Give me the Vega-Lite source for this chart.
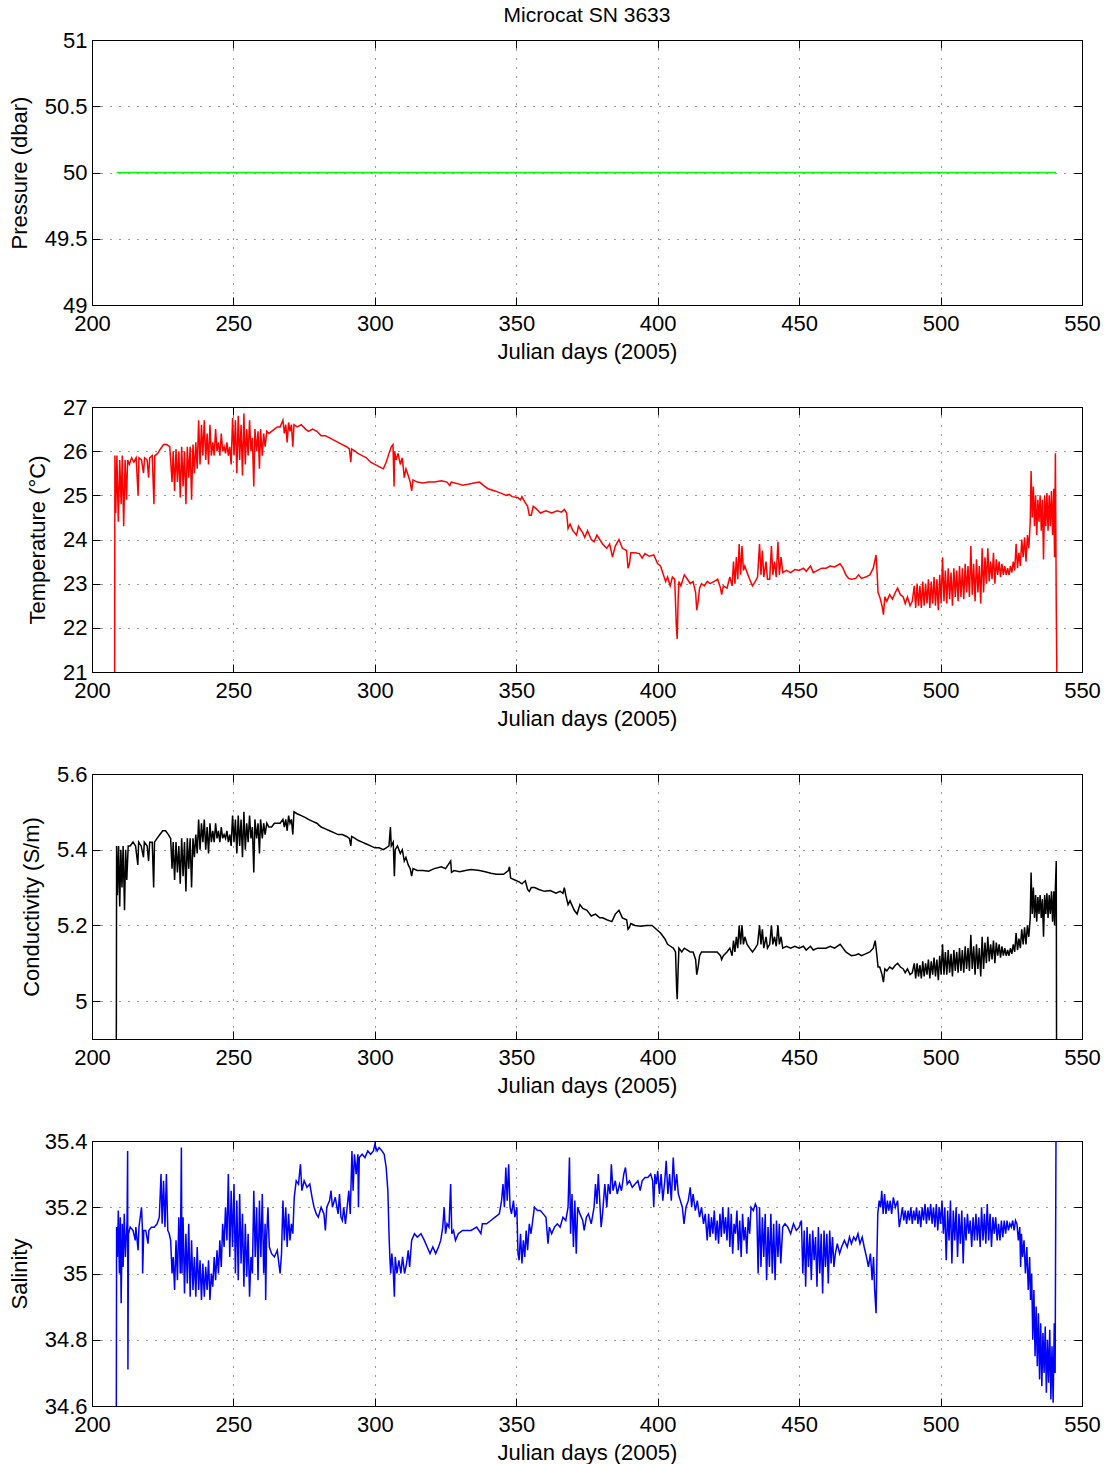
{
"$schema": "https://vega.github.io/schema/vega-lite/v6.json",
"padding": {"left": 7, "top": 4, "right": 10, "bottom": 0},
"background": "white",
"config": {
 "view": {"stroke": "black", "strokeWidth": 1},
 "axis": {"labelFont": "Liberation Sans", "titleFont": "Liberation Sans", "labelFontSize": 22, "titleFontSize": 22, "titleFontWeight": "normal", "labelColor": "black", "titleColor": "black", "domainColor": "black", "tickColor": "black", "tickSize": -8, "gridColor": "black", "gridOpacity": 0.8, "gridDash": [1, 8], "gridWidth": 1, "minExtent": 0, "labelFlush": false},
 "axisX": {"titlePadding": 7, "labelPadding": 16},
 "axisY": {"titlePadding": 13, "labelPadding": 13}
},
"bounds": "flush",
"spacing": 102,
"datasets": {
"pres": [{"d":208.7,"v":50},{"d":540.8,"v":50}],
"temp": [
{"d":208.0,"v":21.0},{"d":208.1,"v":25.9},{"d":208.4,"v":24.6},{"d":208.8,"v":25.9},{"d":209.3,"v":24.4},{"d":209.8,"v":25.8},{"d":210.3,"v":24.8},{"d":210.7,"v":25.9},{"d":211.2,"v":24.3},{"d":211.7,"v":25.8},{"d":212.2,"v":24.9},{"d":212.6,"v":25.8},{"d":213.2,"v":25.7},{"d":214.0,"v":25.85},{"d":214.8,"v":25.75},{"d":215.6,"v":25.85},{"d":216.3,"v":25.0},{"d":216.6,"v":25.85},{"d":217.5,"v":25.8},{"d":218.2,"v":25.5},{"d":218.6,"v":25.85},{"d":219.5,"v":25.8},{"d":220.0,"v":25.4},{"d":220.4,"v":25.85},{"d":221.3,"v":25.9},{"d":221.9,"v":24.8},{"d":222.2,"v":25.9},{"d":223.2,"v":25.95},{"d":224.2,"v":26.05},{"d":225.3,"v":26.15},{"d":226.4,"v":26.15},{"d":227.5,"v":26.1},
{"d":228.3,"v":25.3},{"d":228.7,"v":26.0},{"d":229.2,"v":25.1},{"d":229.7,"v":26.05},{"d":230.2,"v":25.3},{"d":230.7,"v":26.0},{"d":231.2,"v":24.95},{"d":231.7,"v":26.1},{"d":232.2,"v":25.2},{"d":232.7,"v":26.0},{"d":233.2,"v":24.8},{"d":233.7,"v":26.1},{"d":234.2,"v":25.4},{"d":234.7,"v":26.1},{"d":235.2,"v":24.9},{"d":235.7,"v":26.15},{"d":236.2,"v":25.5},{"d":236.7,"v":26.2},{"d":237.2,"v":25.6},{"d":237.7,"v":26.7},{"d":238.2,"v":25.7},{"d":238.7,"v":26.6},{"d":239.2,"v":25.9},{"d":239.7,"v":26.7},{"d":240.2,"v":25.8},{"d":240.7,"v":26.4},{"d":241.2,"v":25.7},{"d":241.7,"v":26.6},{"d":242.2,"v":25.9},{"d":242.7,"v":26.2},{"d":243.2,"v":25.9},{"d":243.7,"v":26.5},{"d":244.2,"v":26.0},{"d":244.7,"v":26.2},{"d":245.2,"v":25.9},{"d":245.7,"v":26.4},{"d":246.2,"v":26.0},{"d":246.7,"v":26.1},{"d":247.2,"v":25.95},{"d":247.7,"v":26.2},{"d":248.2,"v":25.9},{"d":248.7,"v":26.1},{"d":249.2,"v":25.7},{"d":249.7,"v":26.75},{"d":250.2,"v":25.9},{"d":250.7,"v":26.7},{"d":251.2,"v":25.5},{"d":251.7,"v":26.8},{"d":252.2,"v":25.8},{"d":252.7,"v":26.6},{"d":253.2,"v":25.45},{"d":253.7,"v":26.85},{"d":254.2,"v":25.7},{"d":254.7,"v":26.5},{"d":255.2,"v":25.9},{"d":255.7,"v":26.7},{"d":256.2,"v":26.0},{"d":256.7,"v":26.3},{"d":257.2,"v":25.2},{"d":257.6,"v":26.5},{"d":258.2,"v":26.0},{"d":258.7,"v":26.45},{"d":259.2,"v":25.6},{"d":259.6,"v":26.5},{"d":260.2,"v":25.9},{"d":260.7,"v":26.4},{"d":261.2,"v":26.1},{"d":261.8,"v":26.45},
{"d":262.5,"v":26.4},{"d":263.5,"v":26.45},{"d":264.5,"v":26.5},{"d":265.5,"v":26.55},{"d":266.5,"v":26.55},{"d":267.5,"v":26.7},{"d":268.0,"v":26.4},{"d":268.5,"v":26.6},{"d":269.0,"v":26.2},{"d":269.5,"v":26.65},{"d":270.0,"v":26.45},{"d":270.5,"v":26.6},{"d":271.0,"v":26.1},{"d":271.4,"v":26.6},{"d":272.5,"v":26.55},{"d":274.0,"v":26.6},{"d":275.5,"v":26.5},{"d":276.5,"v":26.45},{"d":278.0,"v":26.5},{"d":279.5,"v":26.45},{"d":281.0,"v":26.35},{"d":282.5,"v":26.35},{"d":284.0,"v":26.3},{"d":285.5,"v":26.25},{"d":287.0,"v":26.2},{"d":288.5,"v":26.15},{"d":290.0,"v":26.1},{"d":291.0,"v":26.05},{"d":291.5,"v":25.75},{"d":291.8,"v":26.05},{"d":293.0,"v":26.0},{"d":294.0,"v":25.95},{"d":295.5,"v":25.9},{"d":297.0,"v":25.85},{"d":298.5,"v":25.75},{"d":300.0,"v":25.7},{"d":301.5,"v":25.65},{"d":303.0,"v":25.6},{"d":304.0,"v":25.75},{"d":305.0,"v":25.95},{"d":305.8,"v":26.1},{"d":306.4,"v":26.15},{"d":306.8,"v":25.2},{"d":307.0,"v":26.0},{"d":307.5,"v":25.8},{"d":308.2,"v":25.95},{"d":309.0,"v":25.7},{"d":309.7,"v":25.85},{"d":310.4,"v":25.4},{"d":311.0,"v":25.6},{"d":311.8,"v":25.45},{"d":312.5,"v":25.3},{"d":313.0,"v":25.1},{"d":313.5,"v":25.35},
{"d":315.0,"v":25.3},{"d":317.0,"v":25.28},{"d":319.0,"v":25.3},{"d":321.0,"v":25.3},{"d":323.5,"v":25.33},{"d":325.5,"v":25.3},{"d":326.5,"v":25.22},{"d":327.0,"v":25.3},{"d":329.0,"v":25.27},{"d":331.0,"v":25.23},{"d":333.0,"v":25.25},{"d":335.0,"v":25.28},{"d":337.0,"v":25.3},{"d":338.5,"v":25.22},{"d":340.0,"v":25.15},{"d":342.5,"v":25.1},{"d":344.5,"v":25.05},{"d":346.5,"v":25.0},{"d":347.5,"v":25.02},{"d":348.5,"v":24.97},{"d":350.5,"v":24.95},{"d":351.5,"v":24.9},{"d":352.0,"v":24.97},{"d":353.0,"v":24.85},{"d":354.0,"v":24.75},{"d":354.6,"v":24.55},{"d":355.3,"v":24.55},{"d":356.0,"v":24.75},{"d":357.0,"v":24.7},{"d":358.5,"v":24.6},{"d":360.5,"v":24.65},{"d":362.5,"v":24.6},{"d":364.5,"v":24.65},{"d":366.0,"v":24.62},{"d":367.0,"v":24.68},{"d":367.8,"v":24.6},{"d":368.3,"v":24.25},{"d":369.0,"v":24.35},{"d":370.0,"v":24.2},{"d":371.3,"v":24.1},{"d":372.0,"v":24.3},{"d":373.5,"v":24.15},{"d":374.2,"v":24.05},{"d":375.2,"v":24.2},{"d":376.5,"v":24.0},{"d":377.5,"v":23.95},{"d":378.5,"v":24.1},{"d":379.5,"v":24.0},{"d":380.5,"v":23.9},{"d":382.0,"v":23.8},{"d":383.0,"v":23.9},{"d":384.0,"v":23.6},{"d":385.0,"v":23.85},{"d":386.3,"v":24.0},{"d":387.5,"v":23.8},{"d":389.0,"v":23.75},{"d":389.5,"v":23.35},{"d":390.0,"v":23.45},{"d":390.5,"v":23.7},{"d":392.0,"v":23.7},{"d":393.5,"v":23.68},{"d":394.5,"v":23.58},{"d":395.5,"v":23.68},{"d":397.0,"v":23.62},{"d":398.6,"v":23.65},{"d":400.0,"v":23.45},{"d":401.0,"v":23.4},{"d":402.0,"v":23.2},{"d":402.8,"v":23.05},{"d":403.5,"v":23.15},{"d":404.4,"v":22.95},{"d":405.2,"v":23.15},{"d":406.0,"v":23.1},{"d":406.6,"v":22.0},{"d":406.9,"v":21.75},{"d":407.2,"v":22.6},{"d":407.5,"v":23.05},{"d":408.2,"v":22.95},{"d":409.4,"v":23.2},{"d":410.5,"v":23.1},{"d":411.5,"v":23.0},{"d":412.5,"v":23.05},{"d":413.4,"v":22.8},{"d":413.8,"v":22.4},{"d":414.3,"v":22.6},{"d":414.8,"v":22.9},{"d":415.5,"v":23.0},{"d":416.5,"v":22.95},{"d":417.5,"v":23.05},{"d":418.5,"v":23.0},{"d":420.0,"v":23.05},{"d":421.2,"v":23.1},{"d":422.2,"v":22.9},{"d":422.6,"v":22.75},{"d":423.2,"v":22.95},{"d":424.5,"v":22.9},{"d":425.5,"v":23.15},{"d":426.3,"v":22.95},{"d":426.8,"v":23.5},{"d":427.3,"v":23.0},{"d":427.8,"v":23.6},{"d":428.3,"v":23.1},{"d":428.8,"v":23.9},{"d":429.3,"v":23.2},{"d":429.8,"v":23.85},{"d":430.3,"v":23.3},{"d":430.8,"v":23.4},{"d":431.6,"v":23.25},{"d":432.5,"v":23.1},{"d":433.5,"v":22.95},{"d":434.5,"v":23.05},{"d":435.3,"v":23.15},{"d":436.0,"v":23.9},{"d":436.5,"v":23.2},{"d":437.0,"v":23.75},{"d":437.5,"v":23.15},{"d":438.3,"v":23.5},{"d":438.8,"v":23.1},{"d":439.6,"v":23.1},{"d":440.2,"v":23.85},{"d":440.7,"v":23.2},{"d":441.3,"v":23.5},{"d":441.9,"v":23.15},{"d":442.5,"v":23.95},{"d":443.0,"v":23.2},{"d":443.6,"v":23.6},{"d":444.2,"v":23.25},{"d":445.5,"v":23.3},{"d":447.0,"v":23.25},{"d":448.5,"v":23.32},{"d":450.0,"v":23.3},{"d":451.5,"v":23.35},{"d":452.5,"v":23.28},{"d":454.0,"v":23.4},{"d":455.0,"v":23.25},{"d":456.5,"v":23.3},{"d":458.0,"v":23.35},{"d":459.5,"v":23.35},{"d":461.0,"v":23.4},{"d":462.5,"v":23.38},{"d":464.5,"v":23.45},{"d":465.5,"v":23.35},{"d":466.5,"v":23.2},{"d":467.5,"v":23.12},{"d":468.5,"v":23.1},{"d":470.0,"v":23.12},{"d":471.0,"v":23.2},{"d":472.0,"v":23.12},{"d":473.5,"v":23.15},{"d":475.0,"v":23.2},{"d":476.2,"v":23.35},{"d":477.2,"v":23.65},{"d":477.6,"v":23.2},{"d":477.9,"v":22.8},{"d":478.5,"v":22.7},{"d":479.3,"v":22.5},{"d":479.8,"v":22.3},{"d":480.3,"v":22.7},{"d":481.0,"v":22.6},{"d":482.0,"v":22.75},{"d":483.0,"v":22.65},{"d":484.0,"v":22.8},{"d":484.8,"v":22.9},{"d":485.8,"v":22.75},{"d":486.8,"v":22.7},{"d":487.5,"v":22.55},{"d":488.3,"v":22.7},{"d":489.2,"v":22.5},{"d":490.0,"v":22.6},
{"d":490.7,"v":22.95},{"d":491.2,"v":22.45},{"d":491.7,"v":23.0},{"d":492.2,"v":22.5},{"d":492.7,"v":22.95},{"d":493.2,"v":22.45},{"d":493.7,"v":23.05},{"d":494.2,"v":22.5},{"d":494.7,"v":23.0},{"d":495.2,"v":22.55},{"d":495.7,"v":23.1},{"d":496.2,"v":22.45},{"d":496.7,"v":23.05},{"d":497.2,"v":22.55},{"d":497.7,"v":23.15},{"d":498.2,"v":22.5},{"d":498.7,"v":23.1},{"d":499.2,"v":22.4},{"d":499.7,"v":23.2},{"d":500.2,"v":22.55},{"d":500.7,"v":23.6},{"d":501.2,"v":22.6},{"d":501.7,"v":23.3},{"d":502.2,"v":22.55},{"d":502.7,"v":23.35},{"d":503.2,"v":22.65},{"d":503.7,"v":23.25},{"d":504.2,"v":22.5},{"d":504.7,"v":23.35},{"d":505.2,"v":22.7},{"d":505.7,"v":23.3},{"d":506.2,"v":22.6},{"d":506.7,"v":23.4},{"d":507.2,"v":22.7},{"d":507.7,"v":23.35},{"d":508.2,"v":22.65},{"d":508.7,"v":23.45},{"d":509.2,"v":22.8},{"d":509.7,"v":23.4},{"d":510.2,"v":22.7},{"d":510.7,"v":23.85},{"d":511.2,"v":22.75},{"d":511.7,"v":23.45},{"d":512.2,"v":22.6},{"d":512.7,"v":23.55},{"d":513.2,"v":22.8},{"d":513.7,"v":23.4},{"d":514.2,"v":22.55},{"d":514.7,"v":23.8},{"d":515.2,"v":22.8},{"d":515.7,"v":23.6},{"d":516.2,"v":23.0},{"d":516.7,"v":23.8},{"d":517.2,"v":23.05},{"d":517.7,"v":23.5},{"d":518.2,"v":23.1},{"d":518.7,"v":23.7},{"d":519.2,"v":23.0},{"d":519.7,"v":23.55},{"d":520.2,"v":23.2},{"d":520.7,"v":23.5},{"d":521.2,"v":23.15},{"d":521.7,"v":23.45},{"d":522.2,"v":23.2},{"d":522.7,"v":23.4},{"d":523.2,"v":23.2},{"d":523.7,"v":23.35},{"d":524.2,"v":23.2},{"d":524.7,"v":23.4},{"d":525.2,"v":23.25},{"d":525.7,"v":23.5},{"d":526.2,"v":23.3},{"d":526.7,"v":23.9},{"d":527.2,"v":23.35},{"d":527.7,"v":23.7},{"d":528.2,"v":23.4},{"d":528.7,"v":24.0},{"d":529.2,"v":23.6},{"d":529.7,"v":24.05},{"d":530.2,"v":23.5},{"d":530.7,"v":24.1},{"d":531.2,"v":23.8},{"d":531.7,"v":24.4},{"d":532.0,"v":25.55},{"d":532.4,"v":24.5},{"d":532.8,"v":25.2},{"d":533.2,"v":24.3},{"d":533.6,"v":25.0},{"d":534.0,"v":24.1},{"d":534.4,"v":24.9},{"d":534.8,"v":24.4},{"d":535.2,"v":25.0},{"d":535.6,"v":24.2},{"d":536.0,"v":24.9},{"d":536.4,"v":23.55},{"d":536.8,"v":25.0},{"d":537.2,"v":24.3},{"d":537.6,"v":25.05},{"d":538.0,"v":24.2},{"d":538.4,"v":25.0},{"d":538.8,"v":24.3},{"d":539.2,"v":25.1},{"d":539.6,"v":24.1},{"d":540.0,"v":25.15},{"d":540.3,"v":23.6},{"d":540.6,"v":25.95},{"d":540.9,"v":22.5},{"d":541.1,"v":21.0}
],
"cond": [
{"d":208.6,"v":4.9},{"d":208.7,"v":5.41},{"d":209.0,"v":5.28},{"d":209.4,"v":5.41},{"d":209.8,"v":5.25},{"d":210.2,"v":5.4},{"d":210.6,"v":5.3},{"d":211.0,"v":5.41},{"d":211.5,"v":5.24},{"d":211.9,"v":5.4},{"d":212.3,"v":5.32},{"d":212.8,"v":5.41},{"d":213.5,"v":5.41},{"d":214.5,"v":5.42},{"d":215.4,"v":5.41},{"d":216.2,"v":5.36},{"d":216.5,"v":5.42},{"d":217.4,"v":5.41},{"d":218.2,"v":5.38},{"d":218.5,"v":5.42},{"d":219.5,"v":5.41},{"d":220.0,"v":5.37},{"d":220.4,"v":5.42},{"d":221.3,"v":5.42},{"d":221.8,"v":5.3},{"d":222.1,"v":5.42},{"d":223.0,"v":5.43},{"d":224.0,"v":5.44},{"d":225.0,"v":5.45},{"d":226.0,"v":5.45},{"d":227.0,"v":5.44},{"d":227.8,"v":5.43},
{"d":228.3,"v":5.35},{"d":228.7,"v":5.42},{"d":229.2,"v":5.32},{"d":229.7,"v":5.42},{"d":230.2,"v":5.34},{"d":230.7,"v":5.41},{"d":231.2,"v":5.31},{"d":231.7,"v":5.43},{"d":232.2,"v":5.33},{"d":232.7,"v":5.42},{"d":233.2,"v":5.29},{"d":233.7,"v":5.43},{"d":234.2,"v":5.35},{"d":234.7,"v":5.43},{"d":235.2,"v":5.3},{"d":235.7,"v":5.43},{"d":236.2,"v":5.38},{"d":236.7,"v":5.44},{"d":237.2,"v":5.39},{"d":237.7,"v":5.48},{"d":238.2,"v":5.4},{"d":238.7,"v":5.47},{"d":239.2,"v":5.42},{"d":239.7,"v":5.48},{"d":240.2,"v":5.4},{"d":240.7,"v":5.46},{"d":241.2,"v":5.39},{"d":241.7,"v":5.47},{"d":242.2,"v":5.42},{"d":242.7,"v":5.45},{"d":243.2,"v":5.42},{"d":243.7,"v":5.47},{"d":244.2,"v":5.43},{"d":244.7,"v":5.45},{"d":245.2,"v":5.42},{"d":245.7,"v":5.46},{"d":246.2,"v":5.43},{"d":246.7,"v":5.44},{"d":247.2,"v":5.43},{"d":247.7,"v":5.45},{"d":248.2,"v":5.42},{"d":248.7,"v":5.44},{"d":249.2,"v":5.41},{"d":249.7,"v":5.49},{"d":250.2,"v":5.42},{"d":250.7,"v":5.48},{"d":251.2,"v":5.39},{"d":251.7,"v":5.49},{"d":252.2,"v":5.41},{"d":252.7,"v":5.48},{"d":253.2,"v":5.38},{"d":253.7,"v":5.5},{"d":254.2,"v":5.4},{"d":254.7,"v":5.47},{"d":255.2,"v":5.42},{"d":255.7,"v":5.49},{"d":256.2,"v":5.43},{"d":256.7,"v":5.46},{"d":257.2,"v":5.34},{"d":257.6,"v":5.48},{"d":258.2,"v":5.43},{"d":258.7,"v":5.47},{"d":259.2,"v":5.39},{"d":259.6,"v":5.48},{"d":260.2,"v":5.43},{"d":260.7,"v":5.47},{"d":261.2,"v":5.44},{"d":261.8,"v":5.47},
{"d":262.5,"v":5.46},{"d":263.5,"v":5.46},{"d":264.5,"v":5.47},{"d":265.5,"v":5.47},{"d":266.5,"v":5.47},{"d":267.5,"v":5.48},{"d":268.0,"v":5.46},{"d":268.5,"v":5.48},{"d":269.0,"v":5.45},{"d":269.5,"v":5.49},{"d":270.0,"v":5.47},{"d":270.5,"v":5.48},{"d":271.0,"v":5.44},{"d":271.4,"v":5.5},{"d":272.5,"v":5.495},{"d":274.0,"v":5.49},{"d":275.5,"v":5.485},{"d":276.5,"v":5.48},{"d":278.0,"v":5.475},{"d":279.5,"v":5.47},{"d":281.0,"v":5.46},{"d":282.5,"v":5.455},{"d":284.0,"v":5.45},{"d":285.5,"v":5.445},{"d":287.0,"v":5.44},{"d":288.5,"v":5.44},{"d":290.0,"v":5.435},{"d":291.0,"v":5.43},{"d":291.5,"v":5.41},{"d":291.8,"v":5.435},{"d":293.0,"v":5.43},{"d":294.0,"v":5.425},{"d":295.5,"v":5.42},{"d":297.0,"v":5.415},{"d":298.5,"v":5.41},{"d":300.0,"v":5.405},{"d":301.5,"v":5.405},{"d":303.0,"v":5.4},{"d":304.0,"v":5.405},{"d":305.0,"v":5.41},{"d":305.5,"v":5.46},{"d":305.8,"v":5.41},{"d":306.5,"v":5.42},{"d":306.9,"v":5.33},{"d":307.2,"v":5.4},{"d":308.0,"v":5.41},{"d":309.0,"v":5.39},{"d":309.7,"v":5.4},{"d":310.4,"v":5.37},{"d":311.0,"v":5.38},{"d":311.8,"v":5.36},{"d":312.5,"v":5.35},{"d":313.0,"v":5.33},{"d":313.5,"v":5.35},
{"d":315.0,"v":5.345},{"d":317.0,"v":5.345},{"d":319.0,"v":5.343},{"d":321.0,"v":5.35},{"d":323.5,"v":5.355},{"d":325.0,"v":5.35},{"d":326.8,"v":5.37},{"d":327.1,"v":5.34},{"d":328.0,"v":5.345},{"d":330.0,"v":5.342},{"d":332.0,"v":5.345},{"d":334.0,"v":5.348},{"d":337.0,"v":5.345},{"d":339.0,"v":5.342},{"d":341.0,"v":5.338},{"d":343.0,"v":5.335},{"d":345.5,"v":5.335},{"d":347.2,"v":5.345},{"d":347.6,"v":5.355},{"d":348.0,"v":5.325},{"d":349.5,"v":5.32},{"d":351.0,"v":5.315},{"d":352.0,"v":5.31},{"d":353.2,"v":5.318},{"d":354.0,"v":5.295},{"d":354.6,"v":5.29},{"d":355.3,"v":5.3},{"d":356.5,"v":5.3},{"d":358.0,"v":5.295},{"d":360.0,"v":5.29},{"d":362.0,"v":5.292},{"d":364.0,"v":5.285},{"d":365.5,"v":5.29},{"d":366.5,"v":5.285},{"d":367.0,"v":5.3},{"d":367.5,"v":5.28},{"d":368.3,"v":5.255},{"d":369.0,"v":5.265},{"d":370.5,"v":5.24},{"d":371.5,"v":5.23},{"d":372.5,"v":5.255},{"d":373.5,"v":5.245},{"d":375.0,"v":5.24},{"d":376.5,"v":5.225},{"d":378.0,"v":5.23},{"d":379.5,"v":5.22},{"d":380.5,"v":5.22},{"d":382.0,"v":5.215},{"d":383.8,"v":5.21},{"d":385.0,"v":5.23},{"d":386.3,"v":5.24},{"d":387.5,"v":5.22},{"d":389.0,"v":5.215},{"d":389.5,"v":5.19},{"d":390.0,"v":5.195},{"d":390.5,"v":5.205},{"d":392.0,"v":5.2},{"d":394.0,"v":5.198},{"d":396.0,"v":5.2},{"d":398.0,"v":5.2},{"d":399.5,"v":5.19},{"d":401.0,"v":5.18},{"d":402.5,"v":5.165},{"d":403.5,"v":5.15},{"d":404.5,"v":5.145},{"d":405.5,"v":5.14},{"d":406.3,"v":5.13},{"d":406.7,"v":5.03},{"d":406.9,"v":5.005},{"d":407.2,"v":5.08},{"d":407.5,"v":5.14},{"d":408.5,"v":5.13},{"d":409.4,"v":5.14},{"d":410.5,"v":5.135},{"d":411.5,"v":5.13},{"d":412.5,"v":5.13},{"d":413.4,"v":5.11},{"d":413.8,"v":5.07},{"d":414.3,"v":5.09},{"d":414.8,"v":5.12},{"d":415.5,"v":5.13},{"d":417.0,"v":5.13},{"d":419.0,"v":5.13},{"d":421.0,"v":5.13},{"d":422.2,"v":5.12},{"d":422.6,"v":5.11},{"d":423.2,"v":5.12},{"d":424.5,"v":5.13},{"d":425.5,"v":5.14},{"d":426.3,"v":5.12},{"d":426.8,"v":5.16},{"d":427.3,"v":5.13},{"d":427.8,"v":5.17},{"d":428.3,"v":5.14},{"d":428.8,"v":5.2},{"d":429.3,"v":5.15},{"d":429.8,"v":5.2},{"d":430.3,"v":5.15},{"d":430.8,"v":5.17},{"d":431.6,"v":5.15},{"d":432.5,"v":5.14},{"d":433.5,"v":5.13},{"d":434.5,"v":5.14},{"d":435.3,"v":5.15},{"d":436.0,"v":5.2},{"d":436.5,"v":5.15},{"d":437.0,"v":5.19},{"d":437.5,"v":5.14},{"d":438.3,"v":5.17},{"d":438.8,"v":5.14},{"d":439.6,"v":5.15},{"d":440.2,"v":5.2},{"d":440.7,"v":5.15},{"d":441.3,"v":5.17},{"d":441.9,"v":5.145},{"d":442.5,"v":5.2},{"d":443.0,"v":5.15},{"d":443.6,"v":5.17},{"d":444.2,"v":5.14},{"d":445.5,"v":5.145},{"d":447.0,"v":5.14},{"d":448.5,"v":5.145},{"d":450.0,"v":5.14},{"d":451.5,"v":5.145},{"d":452.5,"v":5.135},{"d":454.0,"v":5.145},{"d":455.0,"v":5.135},{"d":456.5,"v":5.14},{"d":458.0,"v":5.14},{"d":459.5,"v":5.14},{"d":461.0,"v":5.145},{"d":462.5,"v":5.14},{"d":464.5,"v":5.15},{"d":465.5,"v":5.14},{"d":466.5,"v":5.13},{"d":467.5,"v":5.125},{"d":468.5,"v":5.12},{"d":470.0,"v":5.122},{"d":471.0,"v":5.125},{"d":472.0,"v":5.12},{"d":473.5,"v":5.125},{"d":475.0,"v":5.13},{"d":476.2,"v":5.14},{"d":476.9,"v":5.16},{"d":477.5,"v":5.12},{"d":477.9,"v":5.09},{"d":478.5,"v":5.09},{"d":479.3,"v":5.07},{"d":479.8,"v":5.05},{"d":480.3,"v":5.085},{"d":481.0,"v":5.08},{"d":482.0,"v":5.09},{"d":483.0,"v":5.085},{"d":484.0,"v":5.095},{"d":484.8,"v":5.1},{"d":485.8,"v":5.09},{"d":486.8,"v":5.085},{"d":487.5,"v":5.075},{"d":488.3,"v":5.085},{"d":489.2,"v":5.07},{"d":490.0,"v":5.075},
{"d":490.7,"v":5.1},{"d":491.2,"v":5.06},{"d":491.7,"v":5.1},{"d":492.2,"v":5.065},{"d":492.7,"v":5.095},{"d":493.2,"v":5.06},{"d":493.7,"v":5.105},{"d":494.2,"v":5.065},{"d":494.7,"v":5.1},{"d":495.2,"v":5.07},{"d":495.7,"v":5.11},{"d":496.2,"v":5.06},{"d":496.7,"v":5.105},{"d":497.2,"v":5.07},{"d":497.7,"v":5.115},{"d":498.2,"v":5.065},{"d":498.7,"v":5.11},{"d":499.2,"v":5.055},{"d":499.7,"v":5.12},{"d":500.2,"v":5.07},{"d":500.7,"v":5.15},{"d":501.2,"v":5.07},{"d":501.7,"v":5.13},{"d":502.2,"v":5.07},{"d":502.7,"v":5.135},{"d":503.2,"v":5.075},{"d":503.7,"v":5.125},{"d":504.2,"v":5.065},{"d":504.7,"v":5.135},{"d":505.2,"v":5.08},{"d":505.7,"v":5.13},{"d":506.2,"v":5.075},{"d":506.7,"v":5.14},{"d":507.2,"v":5.08},{"d":507.7,"v":5.135},{"d":508.2,"v":5.075},{"d":508.7,"v":5.145},{"d":509.2,"v":5.085},{"d":509.7,"v":5.14},{"d":510.2,"v":5.08},{"d":510.7,"v":5.175},{"d":511.2,"v":5.085},{"d":511.7,"v":5.145},{"d":512.2,"v":5.07},{"d":512.7,"v":5.15},{"d":513.2,"v":5.085},{"d":513.7,"v":5.14},{"d":514.2,"v":5.065},{"d":514.7,"v":5.17},{"d":515.2,"v":5.085},{"d":515.7,"v":5.155},{"d":516.2,"v":5.1},{"d":516.7,"v":5.17},{"d":517.2,"v":5.105},{"d":517.7,"v":5.15},{"d":518.2,"v":5.11},{"d":518.7,"v":5.16},{"d":519.2,"v":5.1},{"d":519.7,"v":5.155},{"d":520.2,"v":5.12},{"d":520.7,"v":5.15},{"d":521.2,"v":5.115},{"d":521.7,"v":5.145},{"d":522.2,"v":5.12},{"d":522.7,"v":5.14},{"d":523.2,"v":5.12},{"d":523.7,"v":5.135},{"d":524.2,"v":5.12},{"d":524.7,"v":5.14},{"d":525.2,"v":5.125},{"d":525.7,"v":5.15},{"d":526.2,"v":5.13},{"d":526.7,"v":5.18},{"d":527.2,"v":5.135},{"d":527.7,"v":5.165},{"d":528.2,"v":5.14},{"d":528.7,"v":5.19},{"d":529.2,"v":5.15},{"d":529.7,"v":5.195},{"d":530.2,"v":5.15},{"d":530.7,"v":5.2},{"d":531.2,"v":5.17},{"d":531.7,"v":5.22},{"d":532.0,"v":5.34},{"d":532.4,"v":5.23},{"d":532.8,"v":5.3},{"d":533.2,"v":5.22},{"d":533.6,"v":5.28},{"d":534.0,"v":5.21},{"d":534.4,"v":5.275},{"d":534.8,"v":5.23},{"d":535.2,"v":5.28},{"d":535.6,"v":5.22},{"d":536.0,"v":5.27},{"d":536.4,"v":5.17},{"d":536.8,"v":5.28},{"d":537.2,"v":5.23},{"d":537.6,"v":5.285},{"d":538.0,"v":5.22},{"d":538.4,"v":5.28},{"d":538.8,"v":5.23},{"d":539.2,"v":5.29},{"d":539.6,"v":5.21},{"d":540.0,"v":5.29},{"d":540.3,"v":5.2},{"d":540.6,"v":5.3},{"d":540.9,"v":5.37},{"d":541.0,"v":4.9}
],
"sal": [
{"d":208.6,"v":34.6},{"d":208.7,"v":35.14},{"d":209.0,"v":35.05},{"d":209.3,"v":35.19},{"d":209.7,"v":35.0},{"d":210.0,"v":35.17},{"d":210.3,"v":34.91},{"d":210.7,"v":35.15},{"d":211.0,"v":35.02},{"d":211.4,"v":35.18},{"d":211.8,"v":35.05},{"d":212.4,"v":35.16},{"d":212.6,"v":35.37},{"d":212.7,"v":34.71},{"d":212.9,"v":35.12},{"d":213.5,"v":35.14},{"d":214.5,"v":35.13},{"d":215.3,"v":35.1},{"d":215.5,"v":35.14},{"d":216.3,"v":35.07},{"d":216.6,"v":35.14},{"d":217.5,"v":35.2},{"d":217.8,"v":35.14},{"d":217.9,"v":35.0},{"d":218.3,"v":35.13},{"d":219.0,"v":35.13},{"d":219.8,"v":35.09},{"d":220.1,"v":35.13},{"d":221.0,"v":35.14},{"d":222.0,"v":35.14},{"d":223.0,"v":35.15},{"d":223.8,"v":35.17},{"d":224.4,"v":35.3},{"d":224.8,"v":35.15},{"d":225.3,"v":35.28},{"d":225.8,"v":35.14},{"d":226.3,"v":35.3},{"d":226.8,"v":35.13},{"d":227.3,"v":35.12},{"d":227.8,"v":35.1},{"d":228.3,"v":35.0},{"d":228.7,"v":35.05},{"d":229.2,"v":34.95},{"d":229.7,"v":35.1},{"d":230.2,"v":34.98},{"d":230.7,"v":35.17},{"d":231.2,"v":35.0},{"d":231.6,"v":35.38},{"d":231.8,"v":35.0},{"d":232.2,"v":35.17},{"d":232.7,"v":34.94},{"d":233.2,"v":35.12},{"d":233.7,"v":34.97},{"d":234.2,"v":35.15},{"d":234.7,"v":34.93},{"d":235.2,"v":35.1},{"d":235.7,"v":34.95},{"d":236.2,"v":35.05},{"d":236.7,"v":34.93},{"d":237.2,"v":35.08},{"d":237.7,"v":34.95},{"d":238.2,"v":35.04},{"d":238.7,"v":34.92},{"d":239.2,"v":35.03},{"d":239.7,"v":34.93},{"d":240.2,"v":35.02},{"d":240.7,"v":34.95},{"d":241.2,"v":35.04},{"d":241.7,"v":34.92},{"d":242.2,"v":35.0},{"d":242.7,"v":34.96},{"d":243.2,"v":35.05},{"d":243.7,"v":34.98},{"d":244.2,"v":35.07},{"d":244.7,"v":35.0},{"d":245.2,"v":35.1},{"d":245.7,"v":35.02},{"d":246.2,"v":35.15},{"d":246.7,"v":35.08},{"d":247.2,"v":35.2},{"d":247.7,"v":35.1},{"d":248.2,"v":35.3},{"d":248.7,"v":35.05},{"d":249.2,"v":35.25},{"d":249.7,"v":35.08},{"d":250.2,"v":35.27},{"d":250.7,"v":35.0},{"d":251.2,"v":35.22},{"d":251.7,"v":34.98},{"d":252.2,"v":35.24},{"d":252.7,"v":35.03},{"d":253.2,"v":35.18},{"d":253.7,"v":34.96},{"d":254.2,"v":35.15},{"d":254.7,"v":34.99},{"d":255.2,"v":35.12},{"d":255.7,"v":34.93},{"d":256.2,"v":35.05},{"d":256.7,"v":35.0},{"d":257.2,"v":35.25},{"d":257.7,"v":35.05},{"d":258.2,"v":35.2},{"d":258.7,"v":34.98},{"d":259.2,"v":35.22},{"d":259.7,"v":35.05},{"d":260.2,"v":35.24},{"d":260.7,"v":35.0},{"d":261.2,"v":35.15},{"d":261.4,"v":34.92},{"d":261.7,"v":35.1},{"d":262.2,"v":35.2},{"d":262.7,"v":35.08},{"d":263.5,"v":35.06},{"d":264.5,"v":35.05},{"d":265.5,"v":35.07},{"d":266.5,"v":35.0},{"d":267.0,"v":35.06},{"d":267.5,"v":35.22},{"d":268.0,"v":35.1},{"d":268.5,"v":35.2},{"d":269.0,"v":35.08},{"d":269.5,"v":35.18},{"d":270.0,"v":35.1},{"d":270.5,"v":35.15},{"d":271.0,"v":35.12},{"d":271.5,"v":35.23},{"d":272.2,"v":35.28},{"d":273.0,"v":35.27},{"d":273.7,"v":35.33},{"d":274.2,"v":35.25},{"d":275.0,"v":35.28},{"d":276.0,"v":35.26},{"d":277.0,"v":35.27},{"d":277.8,"v":35.23},{"d":278.5,"v":35.2},{"d":279.3,"v":35.18},{"d":280.0,"v":35.17},{"d":281.0,"v":35.2},{"d":282.0,"v":35.18},{"d":282.5,"v":35.13},{"d":283.0,"v":35.2},{"d":284.0,"v":35.22},{"d":284.5,"v":35.25},{"d":285.0,"v":35.2},{"d":286.0,"v":35.23},{"d":287.0,"v":35.18},{"d":287.5,"v":35.24},{"d":288.0,"v":35.17},{"d":288.5,"v":35.16},{"d":289.0,"v":35.2},{"d":289.6,"v":35.15},{"d":290.2,"v":35.2},{"d":290.8,"v":35.25},{"d":291.3,"v":35.18},{"d":291.9,"v":35.37},{"d":292.3,"v":35.25},{"d":292.8,"v":35.36},{"d":293.4,"v":35.3},{"d":294.0,"v":35.36},{"d":294.2,"v":35.2},{"d":294.5,"v":35.35},{"d":295.5,"v":35.36},{"d":296.5,"v":35.35},{"d":297.5,"v":35.37},{"d":298.5,"v":35.36},{"d":299.5,"v":35.37},{"d":300.0,"v":35.39},{"d":300.8,"v":35.37},{"d":301.5,"v":35.38},{"d":302.5,"v":35.37},{"d":303.3,"v":35.36},{"d":304.0,"v":35.32},{"d":304.6,"v":35.25},{"d":305.0,"v":35.12},{"d":305.3,"v":35.05},{"d":305.6,"v":35.0},{"d":306.0,"v":35.06},{"d":306.5,"v":35.01},{"d":306.9,"v":34.93},{"d":307.2,"v":35.05},{"d":307.8,"v":35.0},{"d":308.5,"v":35.04},{"d":309.2,"v":35.0},{"d":309.8,"v":35.05},{"d":310.5,"v":35.0},{"d":311.2,"v":35.03},{"d":311.8,"v":35.07},{"d":312.3,"v":35.02},{"d":313.0,"v":35.1},{"d":314.0,"v":35.12},{"d":315.0,"v":35.11},{"d":316.3,"v":35.12},{"d":317.5,"v":35.1},{"d":318.5,"v":35.08},{"d":319.5,"v":35.06},{"d":320.5,"v":35.08},{"d":321.5,"v":35.06},{"d":322.5,"v":35.08},{"d":323.3,"v":35.1},{"d":324.0,"v":35.14},{"d":324.5,"v":35.2},{"d":325.0,"v":35.12},{"d":325.5,"v":35.15},{"d":326.2,"v":35.14},{"d":326.8,"v":35.27},{"d":327.2,"v":35.12},{"d":327.8,"v":35.13},{"d":328.5,"v":35.1},{"d":329.5,"v":35.12},{"d":331.0,"v":35.13},{"d":332.5,"v":35.13},{"d":334.0,"v":35.13},{"d":336.0,"v":35.14},{"d":337.5,"v":35.12},{"d":338.0,"v":35.15},{"d":339.5,"v":35.15},{"d":341.0,"v":35.16},{"d":342.5,"v":35.17},{"d":344.0,"v":35.18},{"d":344.8,"v":35.22},{"d":345.3,"v":35.27},{"d":345.8,"v":35.2},{"d":346.3,"v":35.32},{"d":346.8,"v":35.22},{"d":347.3,"v":35.33},{"d":347.8,"v":35.2},{"d":348.3,"v":35.18},{"d":349.0,"v":35.22},{"d":349.5,"v":35.17},{"d":350.2,"v":35.2},{"d":350.6,"v":35.06},{"d":351.0,"v":35.04},{"d":351.5,"v":35.12},{"d":352.0,"v":35.03},{"d":352.5,"v":35.1},{"d":353.0,"v":35.05},{"d":353.5,"v":35.13},{"d":354.0,"v":35.07},{"d":354.6,"v":35.15},{"d":355.2,"v":35.12},{"d":355.8,"v":35.16},{"d":356.4,"v":35.2},{"d":357.5,"v":35.19},{"d":358.5,"v":35.19},{"d":359.5,"v":35.18},{"d":360.5,"v":35.17},{"d":361.2,"v":35.09},{"d":361.7,"v":35.14},{"d":362.5,"v":35.12},{"d":363.5,"v":35.14},{"d":364.5,"v":35.15},{"d":365.5,"v":35.14},{"d":366.5,"v":35.17},{"d":367.5,"v":35.16},{"d":368.3,"v":35.2},{"d":368.8,"v":35.35},{"d":369.2,"v":35.12},{"d":369.7,"v":35.24},{"d":370.2,"v":35.08},{"d":370.7,"v":35.22},{"d":371.2,"v":35.06},{"d":371.7,"v":35.2},{"d":372.5,"v":35.18},{"d":373.5,"v":35.16},{"d":374.0,"v":35.13},{"d":374.8,"v":35.17},{"d":375.5,"v":35.18},{"d":376.5,"v":35.15},{"d":377.5,"v":35.2},{"d":378.0,"v":35.27},{"d":378.5,"v":35.21},{"d":379.0,"v":35.3},{"d":379.5,"v":35.22},{"d":380.0,"v":35.14},{"d":380.5,"v":35.18},{"d":381.3,"v":35.27},{"d":382.0,"v":35.2},{"d":382.5,"v":35.27},{"d":383.2,"v":35.24},{"d":383.6,"v":35.33},{"d":384.2,"v":35.25},{"d":385.0,"v":35.28},{"d":385.7,"v":35.24},{"d":386.5,"v":35.27},{"d":387.2,"v":35.25},{"d":388.0,"v":35.3},{"d":388.6,"v":35.32},{"d":389.2,"v":35.27},{"d":390.0,"v":35.28},{"d":391.0,"v":35.26},{"d":392.0,"v":35.27},{"d":393.0,"v":35.28},{"d":393.8,"v":35.25},{"d":394.5,"v":35.28},{"d":395.5,"v":35.29},{"d":396.5,"v":35.29},{"d":397.5,"v":35.3},{"d":398.2,"v":35.28},{"d":398.6,"v":35.2},{"d":399.0,"v":35.3},{"d":399.5,"v":35.27},{"d":400.0,"v":35.31},{"d":400.6,"v":35.24},{"d":401.2,"v":35.3},{"d":401.8,"v":35.22},{"d":402.5,"v":35.28},{"d":403.0,"v":35.34},{"d":403.6,"v":35.24},{"d":404.2,"v":35.3},{"d":404.8,"v":35.22},{"d":405.5,"v":35.35},{"d":406.1,"v":35.25},{"d":406.7,"v":35.3},{"d":407.3,"v":35.24},{"d":408.0,"v":35.22},{"d":408.7,"v":35.2},{"d":409.3,"v":35.15},{"d":410.0,"v":35.2},{"d":410.8,"v":35.22},{"d":411.5,"v":35.26},{"d":412.0,"v":35.2},{"d":412.5,"v":35.24},{"d":413.3,"v":35.19},{"d":414.0,"v":35.22},{"d":414.8,"v":35.17},{"d":415.5,"v":35.2},{"d":416.2,"v":35.15},{"d":416.8,"v":35.18},{"d":417.5,"v":35.1},{"d":418.0,"v":35.18},{"d":418.5,"v":35.11},{"d":419.0,"v":35.17},{"d":419.5,"v":35.12},{"d":420.0,"v":35.19},{"d":420.5,"v":35.1},{"d":421.0,"v":35.16},{"d":421.5,"v":35.09},{"d":422.0,"v":35.18},{"d":422.5,"v":35.11},{"d":423.0,"v":35.2},{"d":423.5,"v":35.12},{"d":424.0,"v":35.17},{"d":424.5,"v":35.1},{"d":425.0,"v":35.2},{"d":425.5,"v":35.08},{"d":426.0,"v":35.18},{"d":426.5,"v":35.06},{"d":427.0,"v":35.15},{"d":427.5,"v":35.12},{"d":428.0,"v":35.19},{"d":428.5,"v":35.07},{"d":429.0,"v":35.16},{"d":429.5,"v":35.05},{"d":430.0,"v":35.18},{"d":430.5,"v":35.1},{"d":431.0,"v":35.14},{"d":431.5,"v":35.06},{"d":432.0,"v":35.17},{"d":432.5,"v":35.12},{"d":433.0,"v":35.2},{"d":433.8,"v":35.19},{"d":434.5,"v":35.21},{"d":435.0,"v":35.2},{"d":435.5,"v":35.0},{"d":436.0,"v":35.2},{"d":436.5,"v":35.02},{"d":437.0,"v":35.17},{"d":437.5,"v":35.05},{"d":438.0,"v":35.18},{"d":438.5,"v":34.98},{"d":439.0,"v":35.14},{"d":439.5,"v":35.02},{"d":440.0,"v":35.18},{"d":440.5,"v":35.0},{"d":441.0,"v":35.15},{"d":441.5,"v":34.98},{"d":442.0,"v":35.16},{"d":442.5,"v":35.05},{"d":443.0,"v":35.15},{"d":443.5,"v":35.03},{"d":444.2,"v":35.14},{"d":445.0,"v":35.15},{"d":446.0,"v":35.14},{"d":447.0,"v":35.12},{"d":448.0,"v":35.15},{"d":449.0,"v":35.13},{"d":450.0,"v":35.14},{"d":450.8,"v":35.16},{"d":451.3,"v":35.0},{"d":451.8,"v":35.13},{"d":452.3,"v":34.96},{"d":452.8,"v":35.14},{"d":453.3,"v":35.02},{"d":453.8,"v":35.12},{"d":454.3,"v":34.98},{"d":454.8,"v":35.13},{"d":455.3,"v":35.04},{"d":455.8,"v":35.11},{"d":456.3,"v":34.96},{"d":456.8,"v":35.14},{"d":457.3,"v":35.0},{"d":457.8,"v":35.12},{"d":458.3,"v":34.94},{"d":458.8,"v":35.13},{"d":459.3,"v":35.02},{"d":459.8,"v":35.12},{"d":460.3,"v":34.97},{"d":460.8,"v":35.13},{"d":461.3,"v":35.03},{"d":461.8,"v":35.11},{"d":462.3,"v":35.02},{"d":462.8,"v":35.06},{"d":463.5,"v":35.09},{"d":464.3,"v":35.06},{"d":465.0,"v":35.08},{"d":466.0,"v":35.1},{"d":467.0,"v":35.08},{"d":467.8,"v":35.11},{"d":468.5,"v":35.09},{"d":469.3,"v":35.11},{"d":470.0,"v":35.1},{"d":470.8,"v":35.12},{"d":471.5,"v":35.09},{"d":472.3,"v":35.11},{"d":473.0,"v":35.08},{"d":473.8,"v":35.05},{"d":474.5,"v":35.02},{"d":475.2,"v":35.06},{"d":475.8,"v":34.98},{"d":476.3,"v":35.05},{"d":476.7,"v":34.95},{"d":477.2,"v":34.88},{"d":477.5,"v":35.05},{"d":477.8,"v":35.18},{"d":478.3,"v":35.22},{"d":478.8,"v":35.2},{"d":479.2,"v":35.25},{"d":479.7,"v":35.18},{"d":480.2,"v":35.24},{"d":480.7,"v":35.18},{"d":481.2,"v":35.22},{"d":481.7,"v":35.19},{"d":482.2,"v":35.22},{"d":482.7,"v":35.18},{"d":483.3,"v":35.23},{"d":484.0,"v":35.2},{"d":484.8,"v":35.22},{"d":485.4,"v":35.14},{"d":486.0,"v":35.17},{"d":486.5,"v":35.2},{"d":487.0,"v":35.16},{"d":487.5,"v":35.19},{"d":488.0,"v":35.15},{"d":488.5,"v":35.19},{"d":489.0,"v":35.16},{"d":489.5,"v":35.2},{"d":490.0,"v":35.15},{"d":490.5,"v":35.19},{"d":491.0,"v":35.16},{"d":491.5,"v":35.2},{"d":492.0,"v":35.15},{"d":492.5,"v":35.19},{"d":493.0,"v":35.14},{"d":493.5,"v":35.2},{"d":494.0,"v":35.16},{"d":494.5,"v":35.21},{"d":495.0,"v":35.15},{"d":495.5,"v":35.2},{"d":496.0,"v":35.16},{"d":496.5,"v":35.21},{"d":497.0,"v":35.15},{"d":497.5,"v":35.2},{"d":498.0,"v":35.14},{"d":498.5,"v":35.21},{"d":499.0,"v":35.13},{"d":499.5,"v":35.2},{"d":500.0,"v":35.15},{"d":500.5,"v":35.22},{"d":501.0,"v":35.12},{"d":501.5,"v":35.2},{"d":502.0,"v":35.04},{"d":502.5,"v":35.19},{"d":503.0,"v":35.1},{"d":503.5,"v":35.22},{"d":504.0,"v":35.03},{"d":504.5,"v":35.19},{"d":505.0,"v":35.1},{"d":505.5,"v":35.2},{"d":506.0,"v":35.05},{"d":506.5,"v":35.18},{"d":507.0,"v":35.09},{"d":507.5,"v":35.19},{"d":508.0,"v":35.03},{"d":508.5,"v":35.17},{"d":509.0,"v":35.1},{"d":509.5,"v":35.18},{"d":510.0,"v":35.12},{"d":510.5,"v":35.16},{"d":511.0,"v":35.08},{"d":511.5,"v":35.17},{"d":512.0,"v":35.1},{"d":512.5,"v":35.18},{"d":513.0,"v":35.1},{"d":513.5,"v":35.17},{"d":514.0,"v":35.08},{"d":514.5,"v":35.2},{"d":515.0,"v":35.1},{"d":515.5,"v":35.18},{"d":516.0,"v":35.09},{"d":516.5,"v":35.21},{"d":517.0,"v":35.1},{"d":517.5,"v":35.18},{"d":518.0,"v":35.08},{"d":518.5,"v":35.17},{"d":519.0,"v":35.12},{"d":519.5,"v":35.17},{"d":520.0,"v":35.1},{"d":520.5,"v":35.15},{"d":521.0,"v":35.1},{"d":521.5,"v":35.16},{"d":522.0,"v":35.11},{"d":522.5,"v":35.16},{"d":523.0,"v":35.12},{"d":523.5,"v":35.16},{"d":524.0,"v":35.13},{"d":524.5,"v":35.15},{"d":525.0,"v":35.14},{"d":525.5,"v":35.16},{"d":526.0,"v":35.13},{"d":526.5,"v":35.16},{"d":527.0,"v":35.15},{"d":527.5,"v":35.1},{"d":528.0,"v":35.14},{"d":528.3,"v":35.02},{"d":528.6,"v":35.12},{"d":529.0,"v":35.05},{"d":529.5,"v":35.1},{"d":530.0,"v":35.0},{"d":530.5,"v":35.08},{"d":531.0,"v":34.95},{"d":531.5,"v":35.05},{"d":531.8,"v":34.92},{"d":532.2,"v":35.0},{"d":532.6,"v":34.8},{"d":533.0,"v":34.95},{"d":533.4,"v":34.75},{"d":533.8,"v":34.9},{"d":534.2,"v":34.72},{"d":534.6,"v":34.88},{"d":535.0,"v":34.68},{"d":535.4,"v":34.85},{"d":535.8,"v":34.66},{"d":536.2,"v":34.82},{"d":536.6,"v":34.7},{"d":537.0,"v":34.84},{"d":537.4,"v":34.64},{"d":537.8,"v":34.8},{"d":538.2,"v":34.67},{"d":538.6,"v":34.83},{"d":539.0,"v":34.62},{"d":539.4,"v":34.78},{"d":539.8,"v":34.61},{"d":540.2,"v":34.85},{"d":540.5,"v":34.7},{"d":540.8,"v":35.4}
]
},
"vconcat": [
{
 "title": {"text": "Microcat SN 3633", "fontSize": 21, "font": "Liberation Sans", "fontWeight": "normal", "anchor": "middle", "frame": "group", "baseline": "bottom", "offset": -18, "color": "black"},
 "width": 990, "height": 265,
 "layer": [
  {"data": {"name": "pres"}, "mark": {"type": "line", "color": "#00ff00", "strokeWidth": 1.5, "clip": true},
   "encoding": {
    "x": {"field": "d", "type": "quantitative", "scale": {"domain": [200, 550], "nice": false, "zero": false}, "axis": {"title": "Julian days (2005)", "values": [200,250,300,350,400,450,500,550], "grid": true, "format": "~f"}},
    "y": {"field": "v", "type": "quantitative", "scale": {"domain": [49, 51], "nice": false, "zero": false}, "axis": {"title": "Pressure (dbar)", "values": [49,49.5,50,50.5,51], "grid": true, "format": "~f"}}}},
  {"data": {"values": [{"d": 300, "v": 50}]}, "mark": {"type": "point", "opacity": 0},
   "encoding": {
    "x": {"field": "d", "type": "quantitative", "axis": {"orient": "top", "title": null, "labels": false, "grid": false, "values": [200,250,300,350,400,450,500,550]}},
    "y": {"field": "v", "type": "quantitative", "axis": {"orient": "right", "title": null, "labels": false, "grid": false, "values": [49,49.5,50,50.5,51]}}}}
 ],
 "resolve": {"axis": {"x": "independent", "y": "independent"}}
},
{
 "width": 990, "height": 265,
 "layer": [
  {"data": {"name": "temp"}, "mark": {"type": "line", "color": "#ff0000", "strokeWidth": 1.5, "clip": true},
   "encoding": {
    "x": {"field": "d", "type": "quantitative", "scale": {"domain": [200, 550], "nice": false, "zero": false}, "axis": {"title": "Julian days (2005)", "values": [200,250,300,350,400,450,500,550], "grid": true, "format": "~f"}},
    "y": {"field": "v", "type": "quantitative", "scale": {"domain": [21, 27], "nice": false, "zero": false}, "axis": {"title": "Temperature (°C)", "values": [21,22,23,24,25,26,27], "grid": true, "format": "~f"}}}},
  {"data": {"values": [{"d": 300, "v": 24}]}, "mark": {"type": "point", "opacity": 0},
   "encoding": {
    "x": {"field": "d", "type": "quantitative", "axis": {"orient": "top", "title": null, "labels": false, "grid": false, "values": [200,250,300,350,400,450,500,550]}},
    "y": {"field": "v", "type": "quantitative", "axis": {"orient": "right", "title": null, "labels": false, "grid": false, "values": [21,22,23,24,25,26,27]}}}}
 ],
 "resolve": {"axis": {"x": "independent", "y": "independent"}}
},
{
 "width": 990, "height": 265,
 "layer": [
  {"data": {"name": "cond"}, "mark": {"type": "line", "color": "#000000", "strokeWidth": 1.5, "clip": true},
   "encoding": {
    "x": {"field": "d", "type": "quantitative", "scale": {"domain": [200, 550], "nice": false, "zero": false}, "axis": {"title": "Julian days (2005)", "values": [200,250,300,350,400,450,500,550], "grid": true, "format": "~f"}},
    "y": {"field": "v", "type": "quantitative", "scale": {"domain": [4.9, 5.6], "nice": false, "zero": false}, "axis": {"title": "Conductivity (S/m)", "values": [5,5.2,5.4,5.6], "grid": true, "format": "~f"}}}},
  {"data": {"values": [{"d": 300, "v": 5.2}]}, "mark": {"type": "point", "opacity": 0},
   "encoding": {
    "x": {"field": "d", "type": "quantitative", "axis": {"orient": "top", "title": null, "labels": false, "grid": false, "values": [200,250,300,350,400,450,500,550]}},
    "y": {"field": "v", "type": "quantitative", "axis": {"orient": "right", "title": null, "labels": false, "grid": false, "values": [5,5.2,5.4,5.6]}}}}
 ],
 "resolve": {"axis": {"x": "independent", "y": "independent"}}
},
{
 "width": 990, "height": 265,
 "layer": [
  {"data": {"name": "sal"}, "mark": {"type": "line", "color": "#0000ff", "strokeWidth": 1.5, "clip": true},
   "encoding": {
    "x": {"field": "d", "type": "quantitative", "scale": {"domain": [200, 550], "nice": false, "zero": false}, "axis": {"title": "Julian days (2005)", "values": [200,250,300,350,400,450,500,550], "grid": true, "format": "~f"}},
    "y": {"field": "v", "type": "quantitative", "scale": {"domain": [34.6, 35.4], "nice": false, "zero": false}, "axis": {"title": "Salinity", "values": [34.6,34.8,35,35.2,35.4], "grid": true, "format": "~f"}}}},
  {"data": {"values": [{"d": 300, "v": 35}]}, "mark": {"type": "point", "opacity": 0},
   "encoding": {
    "x": {"field": "d", "type": "quantitative", "axis": {"orient": "top", "title": null, "labels": false, "grid": false, "values": [200,250,300,350,400,450,500,550]}},
    "y": {"field": "v", "type": "quantitative", "axis": {"orient": "right", "title": null, "labels": false, "grid": false, "values": [34.6,34.8,35,35.2,35.4]}}}}
 ],
 "resolve": {"axis": {"x": "independent", "y": "independent"}}
}
]
}
